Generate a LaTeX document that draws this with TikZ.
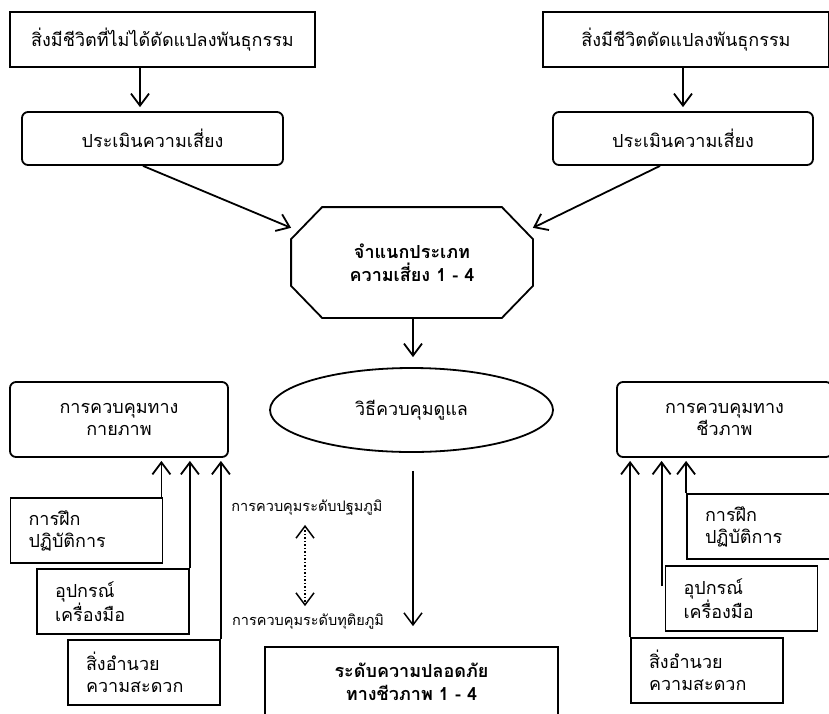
\documentclass[tikz,border=0pt]{standalone}
\usepackage{fontspec}
\setmainfont{Loma}[Script=Thai]
\usetikzlibrary{positioning, arrows.meta, calc, shapes.geometric}
\tikzset{
  >={Straight Barb[length=12pt,width=18pt]},
  box/.style  = {draw, rectangle, line width=1.8pt, align=center, inner sep=4pt,
                 font=\fontsize{18}{22}\selectfont},
  rbox/.style = {box, rounded corners=6pt},
  sbox/.style = {box, align=left, text width=116pt, inner xsep=18pt,
                 minimum height=65pt},
  oct/.style  = {box, draw=none, font=\bfseries\fontsize{18}{23}\selectfont},
  ell/.style  = {box, ellipse},
  ar/.style   = {->, line width=1.8pt},
  lbl/.style  = {font=\fontsize{14.5}{17}\selectfont, inner sep=1pt},
}
\begin{document}
\begin{tikzpicture}[x=1pt, y=-1pt]
  \useasboundingbox (0,0) rectangle (829,713);
  \node[box, minimum width=305pt, minimum height=55pt] (gm0) at (162.5,39.5) {สิ่งมีชีวิตที่ไม่ได้ดัดแปลงพันธุกรรม};
  \node[box, minimum width=286pt, minimum height=55pt] (gm1) at (686,39.5) {สิ่งมีชีวิตดัดแปลงพันธุกรรม};
  \node[rbox, minimum width=261pt, minimum height=53pt] (risk0) at (152.5,138.5) {ประเมินความเสี่ยง};
  \node[rbox, minimum width=260pt, minimum height=53pt] (risk1) at (683,138.5) {ประเมินความเสี่ยง};
  \node[oct, minimum width=240pt, minimum height=109pt] (cls) at (412,262.5) {จำแนกประเภท\\ความเสี่ยง 1 - 4};
  \draw[line width=1.8pt] ($(cls.north west)+(31,0)$) -- ($(cls.north east)+(-31,0)$)
    -- ($(cls.north east)+(0,32)$) -- ($(cls.south east)+(0,-32)$)
    -- ($(cls.south east)+(-31,0)$) -- ($(cls.south west)+(31,0)$)
    -- ($(cls.south west)+(0,-32)$) -- ($(cls.north west)+(0,32)$) -- cycle;
  \node[ell, minimum width=283pt, minimum height=84pt] (ctl) at (411.5,410) {วิธีควบคุมดูแล};
  \node[box, minimum width=293pt, minimum height=70pt,
        font=\bfseries\fontsize{18}{23}\selectfont] (safe) at (411.5,682) {ระดับความปลอดภัย\\ทางชีวภาพ 1 - 4};
  \node[lbl] (lv1) at (307,508) {การควบคุมระดับปฐมภูมิ};
  \node[lbl] (lv2) at (308,622) {การควบคุมระดับทุติยภูมิ};

  \node[rbox, minimum width=218pt, minimum height=75pt] (phy) at (119,419.5) {การควบคุมทาง\\กายภาพ};
  \node[sbox] (phy1) at (86.5,530.5) {การฝึก\\ปฏิบัติการ};
  \node[sbox] (phy2) at (113,601.5) {อุปกรณ์\\เครื่องมือ};
  \node[sbox] (phy3) at (144,672.5) {สิ่งอำนวย\\ความสะดวก};

  \node[rbox, minimum width=215pt, minimum height=75pt] (bio) at (724.5,419.5) {การควบคุมทาง\\ชีวภาพ};
  \node[sbox] (bio1) at (763,526.5) {การฝึก\\ปฏิบัติการ};
  \node[sbox] (bio2) at (741.5,598.5) {อุปกรณ์\\เครื่องมือ};
  \node[sbox] (bio3) at (707,670.5) {สิ่งอำนวย\\ความสะดวก};

  \draw[ar, shorten >=4pt] ([xshift=-22.5pt]gm0.south) -- ([xshift=-12.5pt]risk0.north);
  \draw[ar, shorten >=4pt] (gm1.south -| risk1.north) -- (risk1.north);
  \draw[ar] ([xshift=-9.5pt]risk0.south) -- (cls.164);
  \draw[ar] ([xshift=-23pt]risk1.south) -- (cls.16);
  \draw[ar, shorten >=10pt] ([xshift=1pt]cls.south) -- ([xshift=1.5pt]ctl.north);
  \draw[ar, line width=1.5pt, shorten <=18pt, shorten >=20pt] ([xshift=1.5pt]ctl.south) -- ([xshift=1.5pt]safe.north);
  \draw[<->, dotted, line width=1.5pt, shorten <=8pt, shorten >=7pt] ([xshift=-2pt]lv1.south) -- ([xshift=-3pt]lv2.north);

  \draw[ar, shorten >=3pt] ([xshift=-2pt]phy1.north east) -- ([xshift=-2pt]phy1.north east |- phy.south);
  \draw[ar, shorten >=3pt] (phy2.north east) -- (phy2.north east |- phy.south);
  \draw[ar, shorten >=3pt] (phy3.north east) -- (phy3.north east |- phy.south);

  \coordinate (b2s) at ($(bio2.north west)+(-3,21)$);
  \draw[ar, shorten >=3pt] (bio1.north west) -- (bio1.north west |- bio.south);
  \draw[ar, shorten >=3pt] (b2s) -- (b2s |- bio.south);
  \draw[ar, shorten >=3pt] (bio3.north west) -- (bio3.north west |- bio.south);
\end{tikzpicture}
\end{document}
